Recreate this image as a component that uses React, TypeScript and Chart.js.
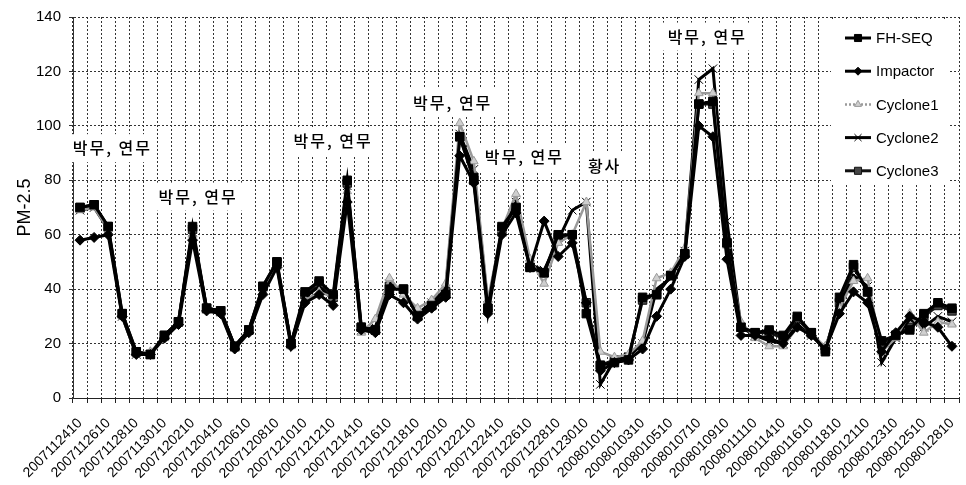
import React, { useEffect, useRef } from 'react';
import { Chart, registerables } from 'chart.js';
import { drawPoint } from 'chart.js/helpers';

Chart.register(...registerables);

const categories = [
  '2007112410', '2007112510', '2007112610', '2007112710', '2007112810', '2007112910', '2007113010', '2007120110',
  '2007120210', '2007120310', '2007120410', '2007120510', '2007120610', '2007120710', '2007120810', '2007120910',
  '2007121010', '2007121110', '2007121210', '2007121310', '2007121410', '2007121510', '2007121610', '2007121710',
  '2007121810', '2007121910', '2007122010', '2007122110', '2007122210', '2007122310', '2007122410', '2007122510',
  '2007122610', '2007122710', '2007122810', '2007122910', '2007123010', '2007123110', '2008010110', '2008010210',
  '2008010310', '2008010410', '2008010510', '2008010610', '2008010710', '2008010810', '2008010910', '2008011010',
  '2008011110', '2008011310', '2008011410', '2008011510', '2008011610', '2008011710', '2008011810', '2008012010',
  '2008012110', '2008012210', '2008012310', '2008012410', '2008012510', '2008012710', '2008012810',
];

const fhSeq = [
  70, 71, 63, 31, 17, 16, 23, 28, 63, 33, 32, 19, 25, 41, 50, 20,
  39, 43, 38, 80, 26, 25, 40, 40, 30, 34, 38, 96, 81, 33, 63, 70,
  48, 46, 60, 60, 31, 12, 13, 14, 37, 38, 45, 53, 108, 109, 57, 26,
  24, 25, 23, 30, 24, 17, 37, 49, 39, 21, 23, 25, 31, 35, 33,
];
const impactor = [
  58, 59, 60, 30, 16, 16, 22, 27, 58, 32, 31, 18, 24, 38, 48, 19,
  35, 38, 34, 72, 25, 24, 38, 35, 29, 33, 37, 89, 79, 31, 60, 68,
  48, 65, 52, 57, 35, 10, 13, 14, 18, 30, 40, 52, 100, 96, 51, 23,
  23, 22, 20, 26, 23, 18, 31, 39, 35, 17, 24, 30, 28, 26, 19,
];
const cyclone1 = [
  69, 70, 62, 30, 16, 17, 22, 28, 60, 32, 31, 18, 25, 40, 48, 19,
  36, 39, 37, 76, 24, 29, 44, 38, 33, 36, 42, 101, 87, 36, 62, 75,
  51, 42, 57, 60, 72, 17, 15, 16, 21, 44, 46, 55, 112, 112, 56, 28,
  22, 19, 19, 26, 23, 19, 33, 43, 44, 17, 22, 31, 24, 28, 27,
];
const cyclone2 = [
  69, 70, 62, 30, 16, 16, 23, 28, 61, 33, 32, 19, 25, 40, 49, 20,
  37, 41, 36, 78, 25, 26, 42, 39, 31, 35, 40, 97, 84, 34, 61, 72,
  49, 47, 58, 69, 72, 5, 14, 15, 20, 40, 44, 54, 117, 121, 65, 26,
  23, 21, 20, 27, 23, 18, 34, 45, 41, 13, 22, 29, 26, 30, 28,
];
const cyclone3 = [
  70, 71, 63, 31, 17, 16, 23, 28, 62, 33, 32, 19, 25, 41, 50, 20,
  38, 42, 37, 79, 26, 25, 41, 40, 30, 34, 39, 96, 80, 33, 62, 70,
  48, 46, 59, 60, 35, 12, 14, 15, 36, 38, 45, 53, 108, 108, 57, 26,
  24, 24, 22, 29, 24, 18, 35, 48, 39, 20, 23, 26, 30, 34, 32,
];

const seriesNames = ['FH-SEQ', 'Impactor', 'Cyclone1', 'Cyclone2', 'Cyclone3'];
const yTicks = [0, 20, 40, 60, 80, 100, 120, 140];

const notes = [
  { text: '박무, 연무', at: 2.3, value: 91.8 },
  { text: '박무, 연무', at: 8.4, value: 74 },
  { text: '박무, 연무', at: 18.0, value: 94.3 },
  { text: '박무, 연무', at: 26.5, value: 108.5 },
  { text: '박무, 연무', at: 31.6, value: 88.5 },
  { text: '황사', at: 37.3, value: 85.2 },
  { text: '박무, 연무', at: 44.6, value: 132.8 },
];

const styles = [
  { color: '#000', fill: '#000', point: 'rect', radius: 6, width: 3 },
  { color: '#000', fill: '#000', point: 'rectRot', radius: 5, width: 3 },
  { color: '#9a9a9a', fill: '#cfcfcf', point: 'triangle', radius: 5, width: 2.5 },
  { color: '#000', fill: '#000', point: 'crossRot', radius: 6, width: 3 },
  { color: '#111', fill: '#444', point: 'rect', radius: 6, width: 3 },
];

const notePlugin = {
  id: 'notes',
  beforeDatasetsDraw(chart: any) {
    const { ctx, scales } = chart;
    ctx.save();
    ctx.font = '500 16px "Noto Sans CJK KR"';
    (ctx as any).letterSpacing = '2px';
    ctx.textAlign = 'center';
    ctx.textBaseline = 'middle';
    notes.forEach((n) => {
      const x = scales.x.getPixelForValue(n.at);
      const y = scales.y.getPixelForValue(n.value);
      const w = ctx.measureText(n.text).width;
      ctx.fillStyle = '#fff';
      ctx.fillRect(x - w / 2 - 5, y - 14, w + 10, 28);
      ctx.fillStyle = '#000';
      ctx.fillText(n.text, x, y);
    });
    ctx.restore();
  },
  afterDatasetsDraw(chart: any) {
    const { ctx, chartArea } = chart;
    ctx.save();
    const bx = chartArea.right - 128;
    const by = chartArea.top + 3;
    ctx.fillStyle = '#fff';
    ctx.fillRect(bx, by, 117, 163);
    ctx.font = '15px "Liberation Sans", Arial, sans-serif';
    ctx.textAlign = 'left';
    ctx.textBaseline = 'middle';
    chart.data.datasets.forEach((ds: any, i: number) => {
      const y = by + 18 + i * 33.2;
      const st = styles[i];
      ctx.strokeStyle = st.color;
      ctx.lineWidth = st.width;
      ctx.setLineDash(i === 2 ? [2, 2] : []);
      ctx.beginPath();
      ctx.moveTo(bx + 14, y);
      ctx.lineTo(bx + 40, y);
      ctx.stroke();
      ctx.setLineDash([]);
      ctx.fillStyle = st.fill;
      ctx.strokeStyle = st.color;
      ctx.lineWidth = 1;
      drawPoint(ctx, { pointStyle: st.point, radius: st.radius - 1, rotation: 0, borderWidth: 1 } as any, bx + 27, y);
      ctx.fillStyle = '#000';
      ctx.fillText(ds.label, bx + 45, y + 1);
    });
    ctx.restore();
  },
};

export default function App() {
  const ref = useRef<HTMLCanvasElement>(null);
  useEffect(() => {
    document.body.style.margin = '0';
    const seriesData = [fhSeq, impactor, cyclone1, cyclone2, cyclone3];
    const chart = new Chart(ref.current as HTMLCanvasElement, {
      type: 'line',
      data: {
        labels: categories,
        datasets: seriesData.map((d, i) => ({
          label: seriesNames[i],
          data: d,
          borderColor: styles[i].color,
          backgroundColor: styles[i].fill,
          pointBackgroundColor: styles[i].fill,
          pointBorderColor: styles[i].color,
          pointStyle: styles[i].point as any,
          pointRadius: styles[i].radius,
          pointBorderWidth: 1,
          borderWidth: styles[i].width,
          tension: 0,
          fill: false,
        })),
      },
      options: {
        responsive: false,
        animation: false,
        layout: { padding: { top: 12, left: 0, right: 0, bottom: 0 } },
        plugins: {
          legend: { display: false },
          tooltip: { enabled: false },
        },
        scales: {
          x: {
            type: 'category',
            offset: true,
            grid: {
              offset: true,
              color: '#333',
              tickColor: '#222',
              tickLength: 5,
              drawOnChartArea: true,
            },
            border: { display: true, color: '#222', dash: [2, 2] },
            ticks: {
              autoSkip: false,
              minRotation: 45,
              maxRotation: 45,
              padding: 12,
              color: '#000',
              font: { family: '"Liberation Sans", Arial, sans-serif', size: 14 },
              callback: (_v: any, i: number) => (i % 2 === 0 ? categories[i] : ''),
            },
            afterFit: (axis: any) => {
              axis.height = 87;
              axis.paddingLeft = 0;
              axis.paddingRight = 0;
            },
          },
          y: {
            min: 0,
            max: 140,
            afterBuildTicks: (axis: any) => {
              axis.ticks = yTicks.map((v) => ({ value: v }));
            },
            grid: { color: '#333', tickColor: '#333', tickLength: 4 },
            border: { display: true, color: '#333', dash: [2, 2] },
            ticks: {
              color: '#000',
              padding: 8,
              font: { family: '"Liberation Sans Narrow", "Liberation Sans", Arial, sans-serif', size: 15 },
            },
            title: {
              display: true,
              text: 'PM-2.5',
              color: '#000',
              font: { family: '"Liberation Sans", Arial, sans-serif', size: 18 },
              padding: { top: 14, bottom: 0 },
            },
            afterFit: (axis: any) => {
              axis.width = 73;
            },
          },
        },
      },
      plugins: [notePlugin],
    });
    return () => chart.destroy();
  }, []);
  return (
    <div style={{ width: 966, height: 485 }}>
      <canvas ref={ref} width={966} height={485} />
    </div>
  );
}
